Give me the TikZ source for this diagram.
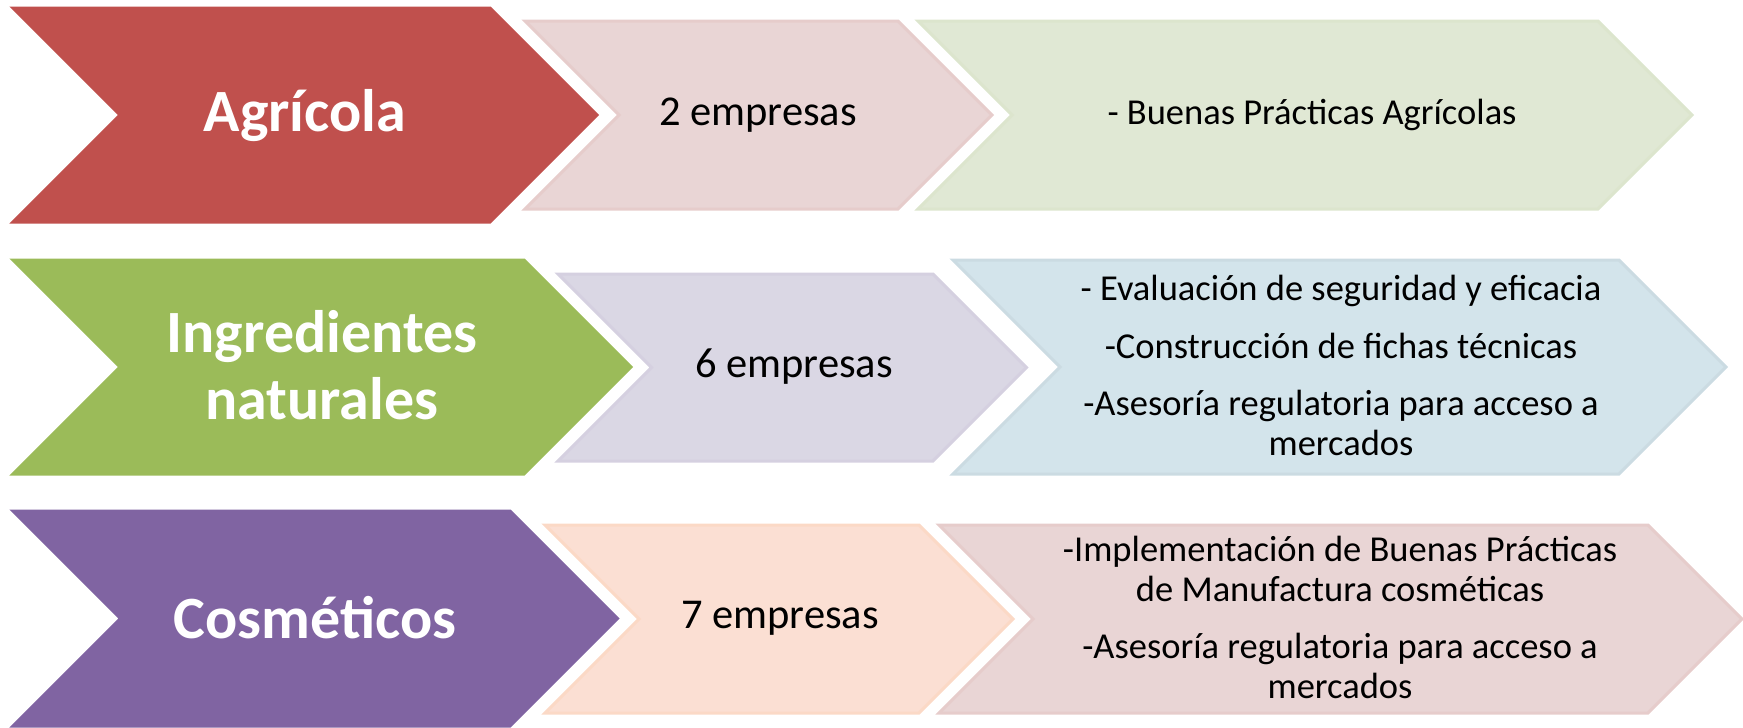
\documentclass[tikz,border=0pt]{standalone}
\usepackage{fontspec}
\setmainfont{Carlito}
\definecolor{agrired}{HTML}{C0504D}
\definecolor{ingrgreen}{HTML}{9BBB59}
\definecolor{cosmpurple}{HTML}{8064A2}
\definecolor{lightrose}{HTML}{E9D5D5}
\definecolor{lightsage}{HTML}{E0E8D4}
\definecolor{lightlilac}{HTML}{DAD7E4}
\definecolor{lightsky}{HTML}{D3E4EB}
\definecolor{lightpeach}{HTML}{FBDFD3}

\begin{document}
\begin{tikzpicture}[x=1pt, y=-1pt,
    sector/.style={font=\fontsize{60}{67}\selectfont\bfseries, text=white, align=center},
    count/.style={font=\fontsize{42.5}{50}\selectfont, align=center},
    service/.style={font=\fontsize{36.5}{40}\selectfont, align=center}]
    \useasboundingbox (0,0) rectangle (1743,728);

    % Chevrons: left / right / top / bottom / colour / outline
    \foreach \L/\R/\T/\B/\c/\o in {
        13/490/8/222/agrired/agrired,
        525/898/21/209/lightrose/lightrose!93!agrired,
        918/1598/21/209/lightsage/lightsage!94!ingrgreen,
        13/524/260/474/ingrgreen/ingrgreen,
        558/933/274/461/lightlilac/lightlilac!94!cosmpurple,
        953/1619/260/474/lightsky/lightsky!96!black,
        13/510/511/726/cosmpurple/cosmpurple,
        545/919/525/713/lightpeach/lightpeach!94!orange,
        939/1648/525/713/lightrose/lightrose!93!agrired}
        \filldraw[fill=\c, draw=\o, line width=3pt, line join=miter]
            (\L,\T) -- (\R,\T) -- ({\R+(\B-\T)/2},{(\T+\B)/2}) -- (\R,\B)
            -- (\L,\B) -- ({\L+(\B-\T)/2},{(\T+\B)/2}) -- cycle;

    % Row 1
    \node[sector] (agricola) at (305,116) {Agrícola};
    \node[count] (agricolaN) at (758,115) {2 empresas};
    \node[service] (agricolaS) at (1312,115) {- Buenas Prácticas Agrícolas};

    % Row 2
    \node[sector] (ingredientes) at (322,365) {Ingredientes\\naturales};
    \node[count] (ingredientesN) at (794,367) {6 empresas};
    \node[service] (ingredientesS) at (1341,365)
        {- Evaluación de seguridad y eficacia\\[18pt]
         -Construcción de fichas técnicas\\[17pt]
         -Asesoría regulatoria para acceso a\\mercados};

    % Row 3
    \node[sector] (cosmeticos) at (315,618) {Cosméticos};
    \node[count] (cosmeticosN) at (780,618) {7 empresas};
    \node[service] (cosmeticosS) at (1340,617)
        {-Implementación de Buenas Prácticas\\de Manufactura cosméticas\\[17pt]
         -Asesoría regulatoria para acceso a\\mercados};
\end{tikzpicture}
\end{document}
